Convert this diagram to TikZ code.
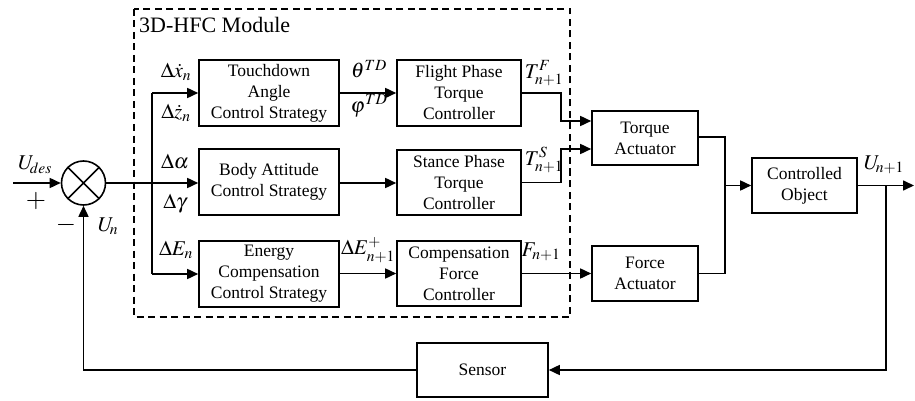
\documentclass[tikz,border=0pt]{standalone}
\usepackage{mathptmx}
\usepackage[no-math]{fontspec}
\setmainfont{Liberation Serif}
\usetikzlibrary{arrows.meta}
\tikzset{
  blk/.style={draw, line width=1.6pt, align=center, inner sep=0pt,
    font=\fontsize{17.5}{21}\selectfont},
  conn/.style={line width=1.6pt},
  arr/.style={line width=1.6pt, -{Triangle[length=11pt,width=10pt]}},
  lab/.style={inner sep=0pt, font=\fontsize{21}{24}\selectfont},
  dashbox/.style={line width=1.6pt, dash pattern=on 7pt off 4.5pt}
}
\begin{document}
\begin{tikzpicture}[x=1pt,y=-1pt]
\useasboundingbox (0,0) rectangle (915,401);
% dashed module
\draw[dashbox] (134,9) rectangle (570,317);
\node[anchor=west, inner sep=0pt, font=\fontsize{22}{26}\selectfont] (title) at (139,25) {3D-HFC Module};
% blocks
\node[blk, minimum width=140pt, minimum height=66pt] (td) at (269,93) {Touchdown\\Angle\\Control Strategy};
\node[blk, minimum width=140pt, minimum height=66pt] (ba) at (269,182) {Body Attitude\\Control Strategy};
\node[blk, minimum width=140pt, minimum height=66pt] (ec) at (269,274) {Energy\\Compensation\\Control Strategy};
\node[blk, minimum width=124pt, minimum height=66pt] (fp) at (459,93) {Flight Phase\\Torque\\Controller};
\node[blk, minimum width=124pt, minimum height=65pt] (sp) at (459,182.5) {Stance Phase\\Torque\\Controller};
\node[blk, minimum width=124pt, minimum height=65pt] (cf) at (459,273.5) {Compensation\\Force\\Controller};
\node[blk, minimum width=106pt, minimum height=54pt] (ta) at (645,138) {Torque\\Actuator};
\node[blk, minimum width=106pt, minimum height=55pt] (fa) at (645,273.5) {Force\\Actuator};
\node[blk, minimum width=105pt, minimum height=55pt] (co) at (804.5,185.5) {Controlled\\Object};
\node[blk, minimum width=131pt, minimum height=54pt] (se) at (482.5,370) {Sensor};
% summing junction
\node[draw, circle, line width=1.6pt, minimum size=44pt, inner sep=0pt] (sum) at (83.5,183) {};
\draw[line width=1.6pt] (sum.north west) -- (sum.south east) (sum.north east) -- (sum.south west);
% coordinates
\coordinate (in) at (13,183);
\coordinate (br) at (152,183);
\coordinate (brt) at (152,93);
\coordinate (brb) at (152,274);
\coordinate (j1) at (561,93);
\coordinate (j1b) at (561,121);
\coordinate (j2) at (561,182.5);
\coordinate (j2b) at (561,149);
\coordinate (k1) at (725,137);
\coordinate (k2) at (725,273.5);
\coordinate (k3) at (725,185.5);
\coordinate (out) at (914,185.5);
\coordinate (fb) at (886,185.5);
\coordinate (fb2) at (886,370);
\coordinate (fb3) at (83.5,370);
% connectors
\draw[arr] (in) -- (sum.west);
\draw[conn] (sum.east) -- (br);
\draw[arr] (br) -- (ba.west |- br);
\draw[conn] (brt) -- (brb);
\draw[arr] (brt) -- (td.west);
\draw[arr] (brb) -- (ec.west);
\draw[arr] (td.east) -- (fp.west);
\draw[arr] (ba.east |- br) -- (sp.west |- br);
\draw[arr] (ec.east |- cf.west) -- (cf.west);
\draw[arr] (fp.east) -- (j1) -- (j1b) -- (ta.west |- j1b);
\draw[arr] (sp.east) -- (j2) -- (j2b) -- (ta.west |- j2b);
\draw[arr] (cf.east) -- (fa.west);
\draw[conn] (ta.east |- k1) -- (k1) -- (k2) -- (fa.east);
\draw[arr] (k3) -- (co.west);
\draw[arr] (co.east) -- (out);
\draw[arr] (fb) -- (fb2) -- (se.east);
\draw[arr] (se.west) -- (fb3) -- (sum.south);
% labels
\node[lab] (lud) at (35,165) {$U_{\!des}$};
\node[lab, font=\fontsize{26}{26}\selectfont] (lp) at (36,201) {$+$};
\node[lab, font=\fontsize{26}{26}\selectfont] (lm) at (66,225) {$-$};
\node[lab] (lun) at (108,226) {$U_{\!n}$};
\node[lab] (lx) at (176,72) {$\Delta\dot{x}_{n}$};
\node[lab] (lz) at (176,113) {$\Delta\dot{z}_{n}$};
\node[lab] (la) at (175,162) {$\Delta\alpha$};
\node[lab] (lg) at (175,204) {$\Delta\gamma$};
\node[lab] (le) at (176,250) {$\Delta E_{n}$};
\node[lab] (lth) at (369,69) {$\theta^{TD}$};
\node[lab] (lph) at (369,106) {$\varphi^{TD}$};
\node[lab] (ltf) at (544,73) {$T_{n+1}^{F}$};
\node[lab] (lts) at (544,160) {$T_{n+1}^{S}$};
\node[lab] (lep) at (368,250) {$\Delta E_{n+1}^{+}$};
\node[lab] (lf) at (541,252) {$F_{n+1}$};
\node[lab] (luo) at (884,165) {$U_{\!n+1}$};
\end{tikzpicture}
\end{document}
